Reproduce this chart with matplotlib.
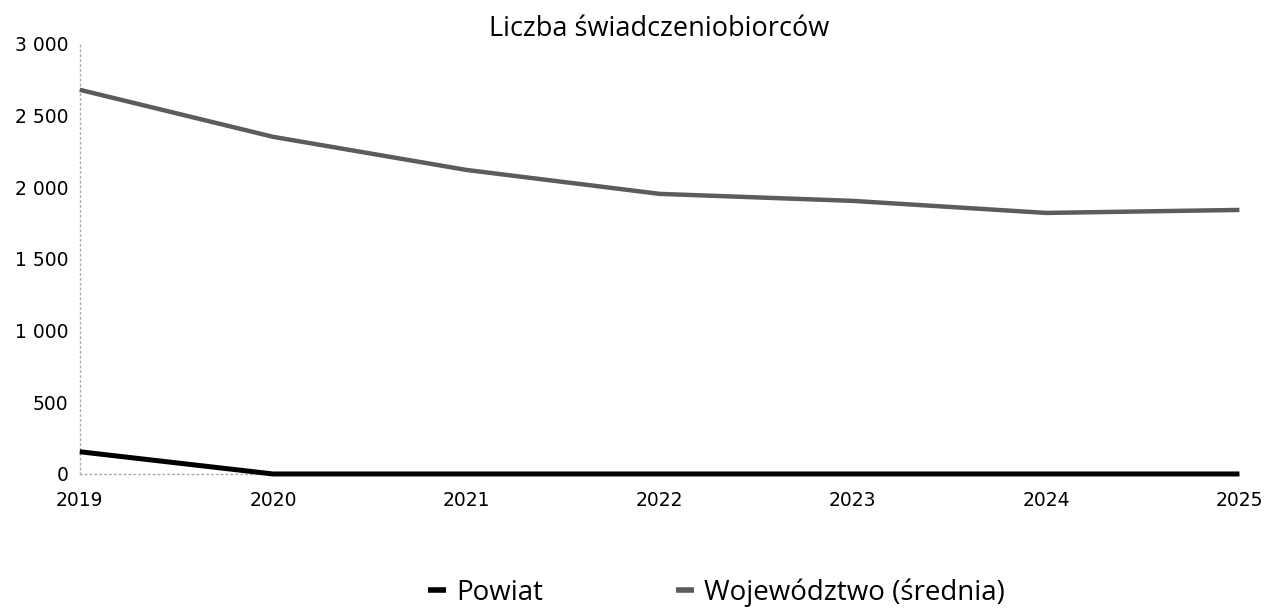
import matplotlib.pyplot as plt
from matplotlib.ticker import FuncFormatter

# === Data ===
years = [2019, 2020, 2021, 2022, 2023, 2024, 2025]
powiat = [155, 0, 0, 0, 0, 0, 0]
wojewodztwo = [2680, 2352, 2121, 1954, 1905, 1821, 1842]
y_ticks = [0, 500, 1000, 1500, 2000, 2500, 3000]

fig = plt.figure(figsize=(12.66, 6.1), dpi=100)
ax = fig.add_axes([0.063, 0.223, 0.916, 0.705])

ax.plot(years, wojewodztwo, color="#5c5c5c", lw=3.2, label="Województwo (średnia)",
        solid_capstyle="butt", clip_on=False)
ax.plot(years, powiat, color="black", lw=3.6, label="Powiat",
        solid_capstyle="butt", clip_on=False)

ax.set_xlim(2019, 2025)
ax.set_ylim(0, 3000)
ax.set_xticks(years)
ax.set_yticks(y_ticks)
ax.yaxis.set_major_formatter(FuncFormatter(lambda v, p: f"{int(v):,}".replace(",", " ")))
ax.tick_params(axis="both", length=0, labelsize=13.5, colors="black")
ax.tick_params(axis="x", pad=12)
ax.tick_params(axis="y", pad=8)

for s in ["top", "right"]:
    ax.spines[s].set_visible(False)
for s in ["left", "bottom"]:
    ax.spines[s].set_color("#aaaaaa")
    ax.spines[s].set_linestyle((0, (1, 2.5)))
    ax.spines[s].set_linewidth(1)
    ax.spines[s].set_zorder(0)

ax.set_title("Liczba świadczeniobiorców", fontsize=19.5, family="Open Sans", pad=6)

handles, labels = ax.get_legend_handles_labels()
order = [1, 0]
leg = fig.legend([handles[i] for i in order], [labels[i] for i in order],
                 loc="center", bbox_to_anchor=(0.566, 0.028), ncol=2, frameon=False,
                 handlelength=0.65, handletextpad=0.36, columnspacing=4.8,
                 prop={"family": "Open Sans", "size": 20})
for h in leg.legend_handles:
    h.set_linewidth(4)

plt.savefig("out.png", dpi=100)
